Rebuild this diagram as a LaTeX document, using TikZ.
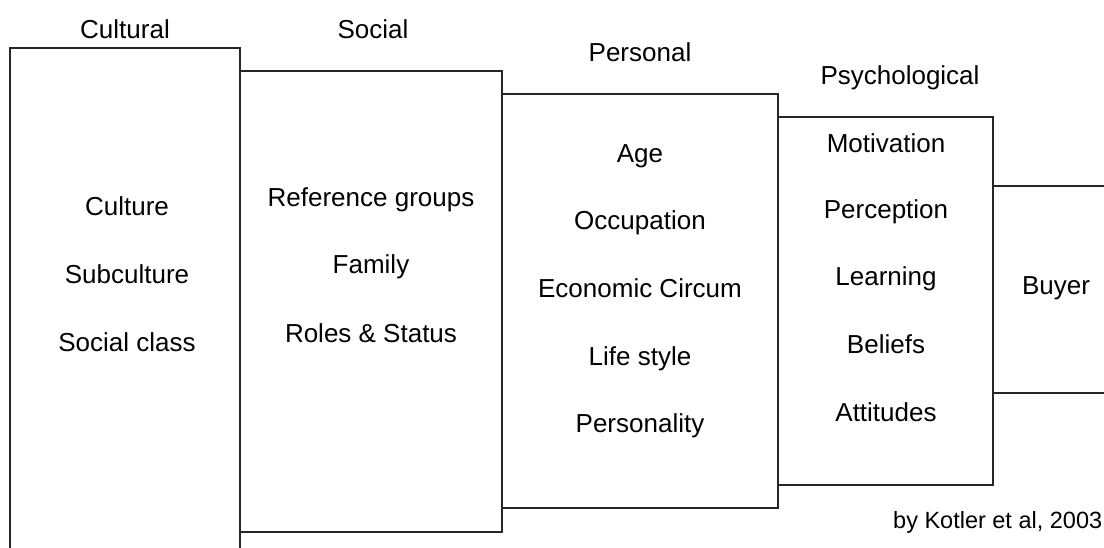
\documentclass[tikz,border=0pt]{standalone}
\usepackage{fontspec}
\setmainfont{Liberation Sans}

\begin{document}
\begin{tikzpicture}[x=1pt,y=-1pt,line width=1.6pt,
  lbl/.style={anchor=base,inner sep=0pt,font=\fontsize{26}{30}\selectfont},
  small/.style={anchor=base east,inner sep=0pt,font=\fontsize{23.5}{28}\selectfont}]
\useasboundingbox (0,0) rectangle (1104,548);

\draw[black!85] (10,548)--(10,48)--(240,48)--(240,548);
\draw[black!85] (240,71)--(502,71)--(502,532)--(240,532);
\draw[black!85] (502,94)--(778,94)--(778,508)--(502,508);
\draw[black!85] (778,117)--(993,117)--(993,485)--(778,485);
\draw[black!85] (993,186)--(1104,186);
\draw[black!85] (993,393)--(1104,393);

\node[lbl] (cultural) at (125,39) {Cultural};
\node[lbl] (social) at (373,39) {Social};
\node[lbl] (personal) at (640,62) {Personal};
\node[lbl] (psycho) at (900,85) {Psychological};

\node[lbl] (culture) at (127,216) {Culture};
\node[lbl] (subcult) at (127,284) {Subculture};
\node[lbl] (socclass) at (127,352) {Social class};

\node[lbl] (refgroups) at (371,207) {Reference groups};
\node[lbl] (family) at (371,274) {Family};
\node[lbl] (roles) at (371,342) {Roles \& Status};

\node[lbl] (age) at (640,163) {Age};
\node[lbl] (occup) at (640,230) {Occupation};
\node[lbl] (econ) at (640,298) {Economic Circum};
\node[lbl] (lifestyle) at (640,365) {Life style};
\node[lbl] (persnty) at (640,432) {Personality};

\node[lbl] (motiv) at (886,153) {Motivation};
\node[lbl] (percep) at (886,219) {Perception};
\node[lbl] (learn) at (886,286) {Learning};
\node[lbl] (beliefs) at (886,353) {Beliefs};
\node[lbl] (attit) at (886,421) {Attitudes};

\node[lbl] (buyer) at (1056,295) {Buyer};

\node[small] (source) at (1103,528) {by Kotler et al, 2003};

\end{tikzpicture}
\end{document}
